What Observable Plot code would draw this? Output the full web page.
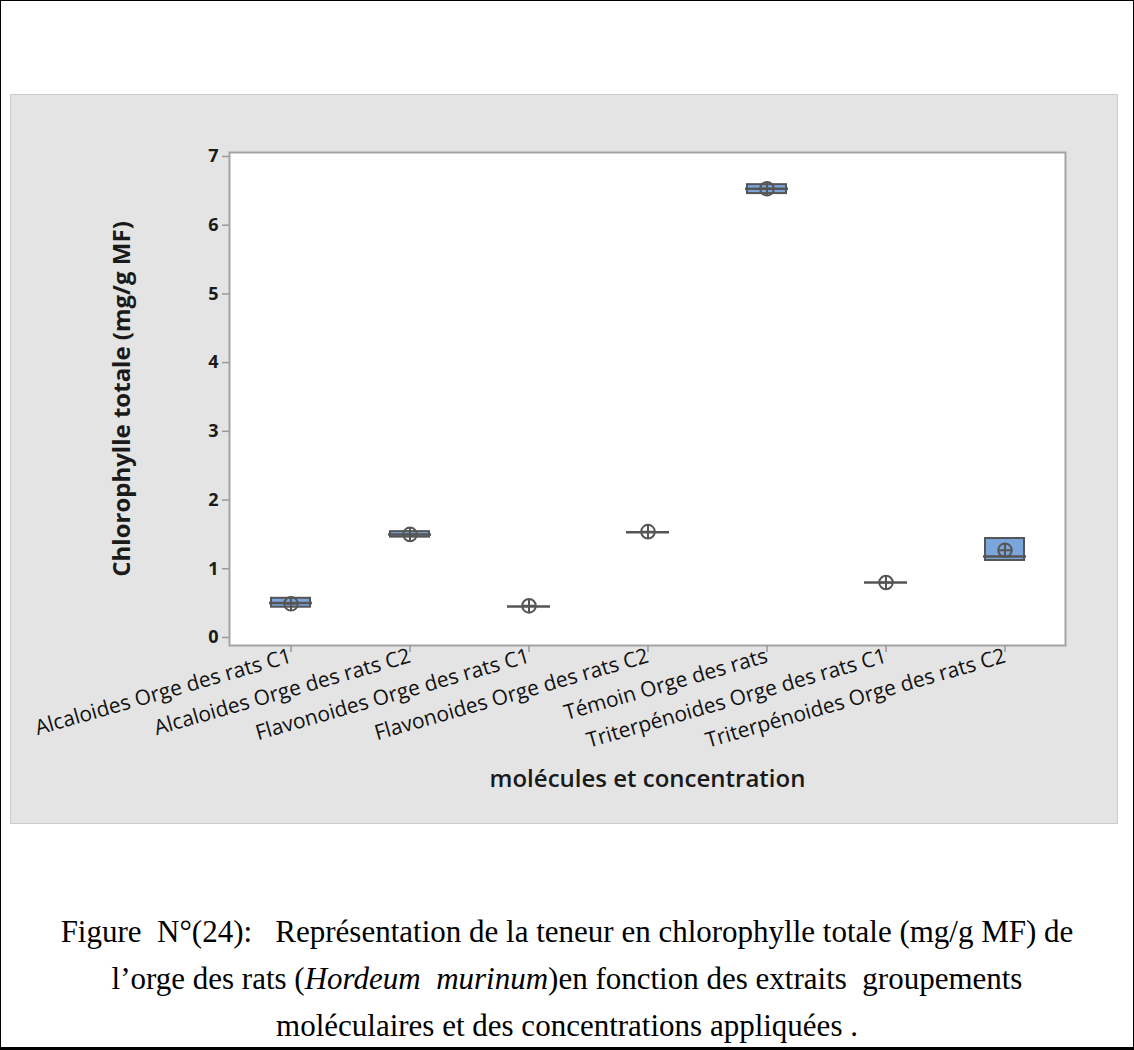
<!DOCTYPE html>
<html>
<head>
<meta charset="utf-8">
<script src="https://cdn.jsdelivr.net/npm/d3@7"></script>
<script src="https://cdn.jsdelivr.net/npm/@observablehq/plot@0.6"></script>
<style>
html, body { margin: 0; padding: 0; background: #fff; }
#page { position: relative; width: 1134px; height: 1050px; box-sizing: border-box; border: 1px solid #000; border-bottom: 3px solid #000; overflow: hidden; }
#panel { position: absolute; left: 10px; top: 94px; width: 1106px; height: 728px; outline: 1px solid #cccccc; }
#panel svg { display: block; }
#caption { position: absolute; left: 0; width: 1132px; top: 907px; text-align: center; font-family: "Liberation Serif", "Times New Roman", serif; font-size: 31px; line-height: 47px; color: #000; white-space: pre; }
</style>
</head>
<body>
<div id="page">
  <div id="panel"></div>
  <div id="caption">Figure  N°(24):   Représentation de la teneur en chlorophylle totale (mg/g MF) de
l’orge des rats (<i>Hordeum  murinum</i>)en fonction des extraits  groupements
moléculaires et des concentrations appliquées .</div>
</div>
<script>
const categories = [
  "Alcaloides Orge des rats C1",
  "Alcaloides Orge des rats C2",
  "Flavonoides Orge des rats C1",
  "Flavonoides Orge des rats C2",
  "Témoin Orge des rats",
  "Triterpénoides Orge des rats C1",
  "Triterpénoides Orge des rats C2"
];
const q1Values     = [0.44, 1.46, 0.45, 1.53, 6.46, 0.80, 1.12];
const medianValues = [0.50, 1.50, 0.45, 1.53, 6.53, 0.80, 1.18];
const q3Values     = [0.57, 1.54, 0.45, 1.53, 6.59, 0.80, 1.44];
const meanValues   = [0.49, 1.50, 0.46, 1.54, 6.53, 0.80, 1.27];
const yTicks = [0, 1, 2, 3, 4, 5, 6, 7];
const yLabel = "Chlorophylle totale (mg/g MF)";
const xLabel = "molécules et concentration";

const data = categories.map((c, i) => ({
  cat: c, q1: q1Values[i], median: medianValues[i], q3: q3Values[i], mean: meanValues[i]
}));
const boxes = data.filter(d => d.q3 > d.q1);

const meanSymbol = {
  draw(context, size) {
    const r = Math.sqrt(size / Math.PI);
    context.moveTo(r, 0);
    context.arc(0, 0, r, 0, 2 * Math.PI);
    context.moveTo(-r, 0);
    context.lineTo(r, 0);
    context.moveTo(0, -r);
    context.lineTo(0, r);
  }
};

const font = "'Open Sans', 'Noto Sans', sans-serif";
const chart = Plot.plot({
  width: 1106,
  height: 728,
  marginLeft: 218,
  marginTop: 57,
  marginRight: 52,
  marginBottom: 178,
  style: { background: "#e4e4e4", fontFamily: font, color: "#1a1a1a" },
  x: { type: "band", domain: categories, padding: 0, axis: null },
  y: { domain: [-0.117, 7.058], axis: null },
  marks: [
    Plot.frame({ fill: "white" }),
    Plot.barY(boxes, { x: "cat", y1: "q1", y2: "q3", fill: "#7ba6dc", stroke: "#555", strokeWidth: 2, insetLeft: 40, insetRight: 40 }),
    Plot.tickY(data, { x: "cat", y: "median", stroke: "#555", strokeWidth: 2.5, inset: 38 }),
    Plot.dot(data, { x: "cat", y: "mean", symbol: meanSymbol, r: 6.8, fill: "none", stroke: "#555", strokeWidth: 2 }),
    Plot.frame({ stroke: "#a3a3a3", strokeWidth: 2 }),
    Plot.axisY({ ticks: yTicks, tickSize: 7, tickPadding: 4, stroke: "#999", strokeWidth: 1.5, fill: "#1a1a1a", fontSize: 18, fontWeight: "bold", label: null, tickFormat: d => String(d) }),
    Plot.axisX({ tickSize: 7, tickPadding: 3, tickRotate: -16, stroke: "#999", strokeWidth: 1.5, fill: "#111", fontSize: 21, label: null }),
    Plot.text([yLabel], { frameAnchor: "left", textAnchor: "middle", dx: -107, rotate: -90, fontSize: 24, fontWeight: "bold", fill: "#1a1a1a" }),
    Plot.text([xLabel], { frameAnchor: "bottom", textAnchor: "middle", dy: 141, fontSize: 24, fontWeight: 600, fill: "#1a1a1a" })
  ]
});
document.getElementById("panel").appendChild(chart);
</script>
</body>
</html>
